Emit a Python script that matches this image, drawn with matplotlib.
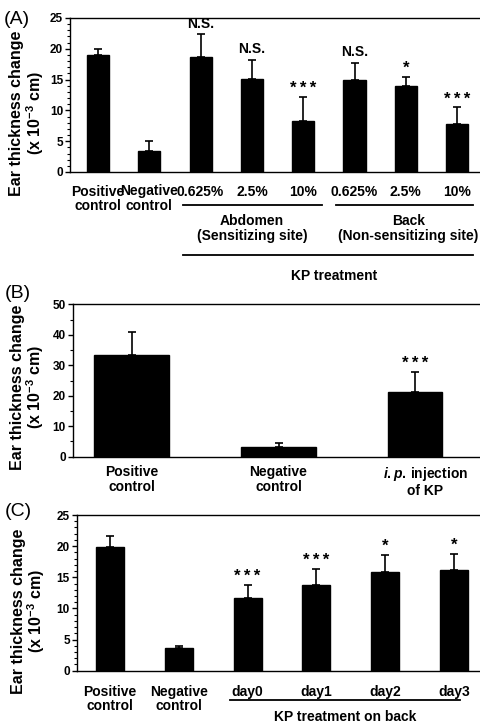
import matplotlib
matplotlib.use("Agg")
import matplotlib.pyplot as plt
from matplotlib.ticker import MultipleLocator
import numpy as np

plt.rcParams['font.family'] = ['Liberation Sans', 'DejaVu Sans']
plt.rcParams['font.weight'] = 'bold'
plt.rcParams['mathtext.fontset'] = 'custom'
plt.rcParams['mathtext.rm'] = 'Liberation Sans:bold'
plt.rcParams['mathtext.bf'] = 'Liberation Sans:bold'
plt.rcParams['mathtext.it'] = 'Liberation Sans:italic:bold'

# ---- Data ----
a_labels = ["Positive\ncontrol", "Negative\ncontrol", "0.625%", "2.5%", "10%",
            "0.625%", "2.5%", "10%"]
a_vals = [19.0, 3.4, 18.6, 15.1, 8.3, 15.0, 14.0, 7.8]
a_errs = [0.9, 1.7, 3.8, 3.1, 3.9, 2.7, 1.5, 2.7]
a_sig = ["", "", "N.S.", "N.S.", "***", "N.S.", "*", "***"]

b_labels = ["Positive\ncontrol", "Negative\ncontrol",
            "$\\it{i.p.}\\,\\mathrm{injection}$\nof KP"]
b_vals = [33.4, 3.1, 21.1]
b_errs = [7.6, 1.5, 6.7]
b_sig = ["", "", "***"]

c_labels = ["Positive\ncontrol", "Negative\ncontrol", "day0", "day1", "day2", "day3"]
c_vals = [19.9, 3.6, 11.7, 13.8, 15.9, 16.2]
c_errs = [1.7, 0.4, 2.1, 2.5, 2.7, 2.6]
c_sig = ["", "", "***", "***", "*", "*"]

W, H = 480, 723
fig = plt.figure(figsize=(W / 100, H / 100), dpi=100)
fig.patch.set_facecolor('white')


def make_axes(left_px, top_px, bottom_px):
    right_px = W * 1.01
    return fig.add_axes([left_px / W, 1 - bottom_px / H,
                         (right_px - left_px) / W, (bottom_px - top_px) / H])


def style(ax, ymax, major, minor, xlim, labels, pad):
    ax.set_ylim(0, ymax)
    ax.set_xlim(*xlim)
    ax.yaxis.set_major_locator(MultipleLocator(major))
    ax.yaxis.set_minor_locator(MultipleLocator(minor))
    ax.tick_params(axis='y', which='major', length=3.5, width=1.0,
                   labelsize=8.5, pad=1.5, direction='out')
    ax.tick_params(axis='y', which='minor', length=2, width=0.8, direction='out')
    ax.set_xticks(np.arange(len(labels)))
    ax.set_xticklabels(labels, fontsize=10, fontweight='bold', linespacing=1.05)
    ax.tick_params(axis='x', length=0, pad=pad)
    for lab in ax.get_yticklabels():
        lab.set_fontweight('bold')
    for s in ['top', 'left', 'bottom', 'right']:
        ax.spines[s].set_linewidth(1.0)


def sig_text(ax, xi, top, s):
    if s.startswith('N'):
        ax.annotate(s, (xi, top), xytext=(0, 2.5), textcoords='offset points',
                    ha='center', va='bottom', fontsize=10, fontweight='bold')
    else:
        ax.annotate("\u2009".join(s), (xi, top), xytext=(0, 0.5),
                    textcoords='offset points', ha='center', va='bottom',
                    fontsize=12, fontweight='bold')


def draw_bars(ax, vals, errs, sig, width):
    x = np.arange(len(vals))
    ax.bar(x, vals, width=width, color='black', edgecolor='black', zorder=2)
    ax.errorbar(x, vals, yerr=[np.zeros(len(vals)), errs], fmt='none',
                ecolor='black', elinewidth=1.2, capsize=3.2, capthick=1.2, zorder=3)
    for xi, v, e, s in zip(x, vals, errs, sig):
        if s:
            sig_text(ax, xi, v + e, s)


def ylabel(xc, yc, size):
    fig.text(xc / W, 1 - yc / H, "Ear thickness change\n(x 10$^{-3}$ cm)",
             rotation=90, ha='center', va='center', fontsize=size,
             fontweight='bold', linespacing=1.0, multialignment='center')


# ---- Panel A ----
axA = make_axes(70, 18, 172)
draw_bars(axA, a_vals, a_errs, a_sig, 0.43)
style(axA, 25, 5, 1, (-0.546, 7.54), a_labels, 9)
tr = axA.get_xaxis_transform()
axA.plot([2 - 0.34, 4 + 0.37], [-0.214, -0.214], color='black', lw=1.3,
         transform=tr, clip_on=False)
axA.plot([5 - 0.37, 7 + 0.31], [-0.214, -0.214], color='black', lw=1.3,
         transform=tr, clip_on=False)
axA.plot([2 - 0.34, 7 + 0.31], [-0.539, -0.539], color='black', lw=1.3,
         transform=tr, clip_on=False)
axA.text(3, -0.365, "Abdomen\n(Sensitizing site)", transform=tr, ha='center',
         va='center', fontsize=10, fontweight='bold', linespacing=1.1)
axA.text(6.05, -0.365, "Back\n(Non-sensitizing site)", transform=tr, ha='center',
         va='center', fontsize=10, fontweight='bold', linespacing=1.1)
axA.text(4.6, -0.675, "KP treatment", transform=tr, ha='center',
         va='center', fontsize=10, fontweight='bold')
fig.text(4 / W, 1 - 20 / H, "(A)", fontsize=14, fontweight='normal',
         ha='left', va='center')
ylabel(27.5, 113, 11.5)

# ---- Panel B ----
axB = make_axes(72.7, 304.3, 456.7)
xb = np.arange(len(b_vals))
b_widths = [0.511, 0.511, 0.37]
b_left = xb - 0.255
axB.bar(b_left, b_vals, width=b_widths, align='edge', color='black',
        edgecolor='black', zorder=2)
b_cent = b_left + np.array(b_widths) / 2
axB.errorbar(b_cent, b_vals, yerr=[np.zeros(len(b_vals)), b_errs], fmt='none',
             ecolor='black', elinewidth=1.2, capsize=3.2, capthick=1.2, zorder=3)
for xi, v, e, s in zip(b_cent, b_vals, b_errs, b_sig):
    if s:
        sig_text(axB, xi, v + e, s)
style(axB, 50, 10, 5, (-0.402, 2.405), b_labels, 6)
fig.text(5 / W, 1 - 294 / H, "(B)", fontsize=14, fontweight='normal',
         ha='left', va='center')
ylabel(28, 387, 11.5)

# ---- Panel C ----
axC = make_axes(76.7, 515, 670.7)
draw_bars(axC, c_vals, c_errs, c_sig, 0.407)
style(axC, 25, 5, 1, (-0.484, 5.448), c_labels, 10)
trc = axC.get_xaxis_transform()
axC.plot([1.744, 5.087], [-0.188, -0.188], color='black', lw=1.3,
         transform=trc, clip_on=False)
axC.text(3.42, -0.295, "KP treatment on back", transform=trc, ha='center',
         va='center', fontsize=10, fontweight='bold')
fig.text(5 / W, 1 - 512 / H, "(C)", fontsize=14, fontweight='normal',
         ha='left', va='center')
ylabel(29, 611, 11.5)

fig.savefig("out.png", dpi=100, facecolor='white')
